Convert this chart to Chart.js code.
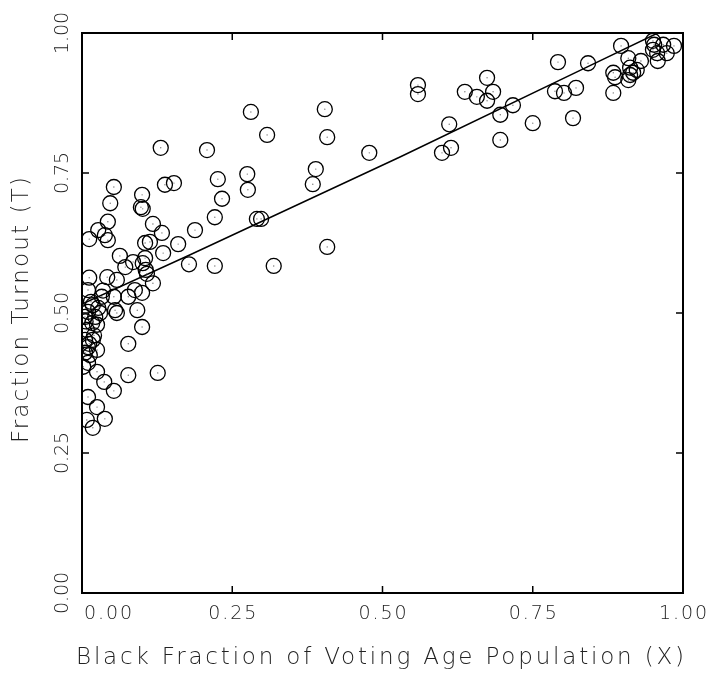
<!DOCTYPE html>
<html><head><meta charset="utf-8">
<script src="https://cdn.jsdelivr.net/npm/chart.js@4"></script>
<style>html,body{margin:0;padding:0;background:#fff;}canvas{display:block;}</style>
</head><body>
<canvas id="c" width="710" height="674"></canvas>
<script>
const blackFraction = [
0.559,0.559,0.611,0.599,0.614,0.637,0.657,0.674,0.684,0.674,0.696,0.717,0.696,0.750,0.792,0.787,0.802,0.822,0.817,0.842,
0.897,0.884,0.887,0.884,0.909,0.912,0.917,0.909,0.912,0.923,0.930,0.950,0.952,0.950,0.957,0.958,0.973,0.985,0.967,
0.478,0.404,0.408,0.408,0.389,0.384,0.208,0.226,0.233,0.221,0.188,0.178,0.221,0.308,0.275,0.276,0.291,0.298,0.319,0.281,0.131,
0.053,0.100,0.047,0.098,0.101,0.138,0.153,0.043,0.118,0.133,0.027,0.038,0.043,0.012,0.105,0.113,0.160,0.063,0.085,0.072,
0.105,0.101,0.135,0.106,0.108,0.012,0.042,0.058,0.088,0.118,0.100,0.010,0.033,0.053,0.077,0.018,0.027,0.055,0.058,0.092,
0.010,0.005,0.022,0.017,0.008,0.025,0.100,0.005,0.018,0.010,0.025,0.005,0.013,0.077,0.010,0.002,0.025,0.037,0.077,0.126,
0.053,0.010,0.025,0.008,0.038,0.018,0.015,0.020,0.030,0.006,0.012,0.035
];
const fractionTurnout = [
0.907,0.891,0.837,0.786,0.795,0.895,0.886,0.920,0.895,0.879,0.854,0.871,0.809,0.839,0.948,0.896,0.893,0.902,0.848,0.946,
0.977,0.929,0.921,0.893,0.955,0.938,0.929,0.916,0.925,0.934,0.950,0.986,0.979,0.970,0.964,0.950,0.964,0.977,0.979,
0.786,0.864,0.814,0.618,0.757,0.730,0.791,0.739,0.704,0.671,0.648,0.587,0.584,0.818,0.748,0.720,0.668,0.668,0.584,0.859,0.795,
0.725,0.711,0.696,0.689,0.686,0.729,0.732,0.663,0.659,0.643,0.648,0.639,0.630,0.632,0.625,0.627,0.623,0.602,0.591,0.582,
0.598,0.589,0.607,0.577,0.570,0.563,0.564,0.559,0.541,0.553,0.536,0.541,0.529,0.529,0.529,0.514,0.509,0.505,0.500,0.505,
0.502,0.493,0.493,0.482,0.470,0.479,0.475,0.452,0.452,0.439,0.434,0.429,0.425,0.445,0.411,0.404,0.395,0.377,0.389,0.393,
0.361,0.350,0.332,0.309,0.311,0.295,0.520,0.460,0.500,0.485,0.445,0.540
];
const fitX = [0, 0.18, 0.53, 0.84, 0.958];
const fitY = [0.516, 0.604, 0.779, 0.939, 1.0];
const tickValues = [0, 0.25, 0.5, 0.75, 1];
const tickLabels = ['0.00', '0.25', '0.50', '0.75', '1.00'];
const xTitle = 'Black Fraction of Voting Age Population (X)';
const yTitle = 'Fraction Turnout (T)';

const points = blackFraction.map((x, i) => ({x: x, y: fractionTurnout[i]}));
const fitLine = fitX.map((x, i) => ({x: x, y: fitY[i]}));

function fittedText(ctx, text, cx, cy, width, rot) {
  ctx.save();
  ctx.translate(cx, cy);
  ctx.rotate(rot);
  ctx.letterSpacing = '0px';
  const w = ctx.measureText(text).width;
  const sp = text.length > 1 ? (width - w) / (text.length - 1) : 0;
  ctx.letterSpacing = sp + 'px';
  ctx.textAlign = 'left';
  ctx.textBaseline = 'middle';
  ctx.fillText(text, -width / 2, 0);
  ctx.restore();
}

const framePlugin = {
  id: 'frame',
  afterDraw(chart) {
    const ctx = chart.ctx;
    const xs = chart.scales.x, ys = chart.scales.y;
    const L = xs.getPixelForValue(0), R = xs.getPixelForValue(1);
    const T = ys.getPixelForValue(1), B = ys.getPixelForValue(0);
    ctx.save();
    ctx.strokeStyle = '#000';
    ctx.lineWidth = 2;
    ctx.strokeRect(L, T, R - L, B - T);
    ctx.lineWidth = 1.5;
    const tl = 7;
    ctx.beginPath();
    tickValues.forEach(v => {
      if (v === 0 || v === 1) return;
      const px = xs.getPixelForValue(v), py = ys.getPixelForValue(v);
      ctx.moveTo(px, B); ctx.lineTo(px, B - tl);
      ctx.moveTo(px, T); ctx.lineTo(px, T + tl);
      ctx.moveTo(L, py); ctx.lineTo(L + tl, py);
      ctx.moveTo(R, py); ctx.lineTo(R - tl, py);
    });
    ctx.stroke();
    ctx.fillStyle = '#222';
    ctx.font = '200 19px "DejaVu Sans"';
    tickValues.forEach((v, i) => {
      let px = xs.getPixelForValue(v);
      if (v === 0) px += 26;
      fittedText(ctx, tickLabels[i], px, B + 21, 48, 0);
      const py = ys.getPixelForValue(v);
      fittedText(ctx, tickLabels[i], L - 19, py, 42, -Math.PI / 2);
    });
    ctx.font = '200 23px "DejaVu Sans"';
    fittedText(ctx, xTitle, 380, 658, 608, 0);
    fittedText(ctx, yTitle, 22, 310, 266, -Math.PI / 2);
    ctx.restore();
  }
};

new Chart(document.getElementById('c'), {
  type: 'scatter',
  data: {
    datasets: [
      {
        label: 'Precincts',
        data: points,
        pointRadius: 7.5,
        pointHoverRadius: 7.5,
        pointBorderWidth: 1.3,
        borderColor: '#000',
        backgroundColor: 'rgba(0,0,0,0)'
      },
      {
        label: 'centres',
        data: points,
        pointRadius: 0.7,
        pointHoverRadius: 0.7,
        pointBorderWidth: 0,
        borderColor: 'rgba(0,0,0,0)',
        backgroundColor: '#777'
      },
      {
        type: 'line',
        label: 'Fit',
        data: fitLine,
        showLine: true,
        pointRadius: 0,
        borderColor: '#000',
        borderWidth: 1.5,
        tension: 0,
        fill: false
      }
    ]
  },
  options: {
    responsive: false,
    animation: false,
    devicePixelRatio: 1,
    layout: {padding: {left: 82, right: 27, top: 33, bottom: 81}},
    plugins: {legend: {display: false}, tooltip: {enabled: false}},
    events: [],
    scales: {
      x: {type: 'linear', min: 0, max: 1, display: false},
      y: {type: 'linear', min: 0, max: 1, display: false}
    }
  },
  plugins: [framePlugin]
});
</script>
</body></html>
